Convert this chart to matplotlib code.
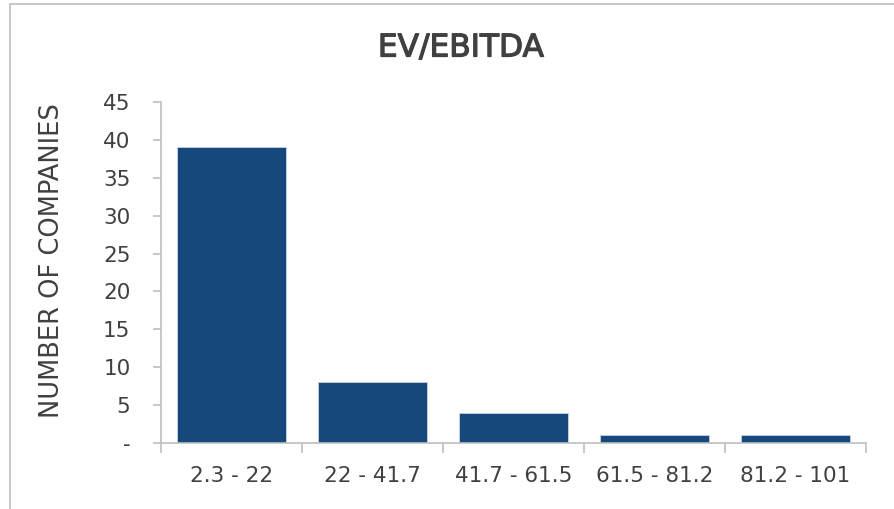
import matplotlib.pyplot as plt
import matplotlib.patheffects as pe
from matplotlib.patches import Rectangle

# data
bins = ["2.3 - 22", "22 - 41.7", "41.7 - 61.5", "61.5 - 81.2", "81.2 - 101"]
counts = [39, 8, 4, 1, 1]
yticks = [0, 5, 10, 15, 20, 25, 30, 35, 40, 45]
ytick_labels = ["-", "5", "10", "15", "20", "25", "30", "35", "40", "45"]

plt.rcParams['font.family'] = ['DejaVu Sans']

fig = plt.figure(figsize=(8.94, 5.09), dpi=100)
ax = fig.add_axes([161/894, 1 - 443/509, 705/894, 341/509])

# chart box outline (cropped on right/bottom)
fig.patches.append(Rectangle((10/894, -0.1), 1.2, 1 - 4/509 + 0.1,
                             transform=fig.transFigure, fill=False,
                             edgecolor="#bfbfbf", linewidth=1.2))

x = list(range(len(bins)))
ax.bar(x, counts, width=0.77, color="#17487d", edgecolor="#c8d3e0", linewidth=0.6)

ax.set_xlim(-0.5, len(bins) - 0.5)
ax.set_ylim(0, 45)
ax.set_yticks(yticks)
ax.set_yticklabels(ytick_labels)
ax.set_xticks(x)
ax.set_xticklabels(bins)
ax.set_xticks([i - 0.5 for i in range(len(bins) + 1)], minor=True)

for s in ["top", "right"]:
    ax.spines[s].set_visible(False)
for s in ["left", "bottom"]:
    ax.spines[s].set_color("#bfbfbf")
    ax.spines[s].set_linewidth(1.2)

ax.tick_params(axis="y", length=6, color="#bfbfbf", width=1.2, labelsize=15.5,
               labelcolor="#404040", pad=16)
ax.tick_params(axis="x", which="major", length=0, labelsize=15.5,
               labelcolor="#404040", pad=16.5)
ax.tick_params(axis="x", which="minor", length=7, color="#bfbfbf", width=1.2)

fig.text(52/894, 1 - 261/509, "NUMBER OF COMPANIES", rotation=90,
         ha="center", va="center", fontsize=18.5, color="#404040")
fig.text(461/894, 1 - 48/509, "EV/EBITDA", ha="center", va="center",
         fontsize=22.5, color="#404040",
         path_effects=[pe.withStroke(linewidth=0.9, foreground="#404040")])

fig.savefig("out.png", dpi=100)
